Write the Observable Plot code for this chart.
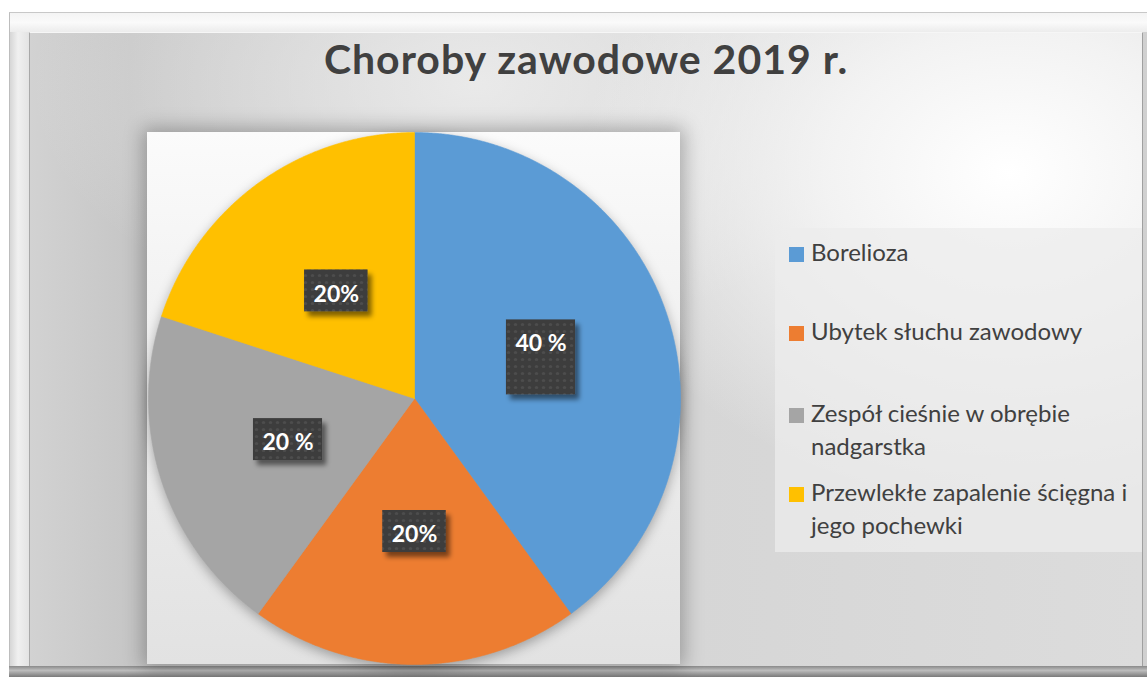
<!DOCTYPE html>
<html>
<head>
<meta charset="utf-8">
<script src="https://cdn.jsdelivr.net/npm/d3@7"></script>
<script src="https://cdn.jsdelivr.net/npm/@observablehq/plot@0.6"></script>
<style>
  html, body { margin: 0; padding: 0; }
  body { width: 1147px; height: 677px; overflow: hidden; position: relative; background: #ffffff; font-family: Lato, "Open Sans", sans-serif; }
  #frame { position: absolute; left: 9px; top: 12px; width: 1150px; height: 680px;
    background: linear-gradient(to right, #d6d6d6 0px, #f0f0f0 8px, #e2e2e2 20px, #d0d0d0 100%);
    border-left: 1px solid #bdbdbd; border-top: 1px solid #c8c8c8; box-sizing: border-box; }
  #frameTop { position: absolute; left: 10px; top: 13px; width: 1140px; height: 19px;
    background: linear-gradient(to bottom, #f4f4f4, #fafafa 50%, #ececec); }
  #frameBottom { position: absolute; left: 9px; top: 666px; width: 1150px; height: 11px;
    background: linear-gradient(to bottom, #8a8a8a, #bdbdbd 40%, #7a7a7a); }
  #panel { position: absolute; left: 29px; top: 32px; width: 1114px; height: 634px;
    border-left: 1px solid #a8a8a8; border-top: 1px solid #f6f6f6; border-right: 1px solid #a0a0a0; box-sizing: border-box;
    background:
      radial-gradient(ellipse 55% 75% at 88% 22%, rgba(255,255,255,1) 0%, rgba(245,245,245,0.9) 30%, rgba(230,230,230,0) 70%),
      radial-gradient(ellipse 40% 40% at 40% 8%, rgba(240,240,240,0.8) 0%, rgba(240,240,240,0) 100%),
      linear-gradient(to right, #d2d2d2 0%, #c6c6c6 9%, #d6d6d6 60%, #dcdcdc 100%);
  }
  #title { position: absolute; left: 29px; width: 1114px; top: 38px; text-align: center;
    font-family: Lato, sans-serif; font-weight: 700; font-size: 41px; line-height: 42px; letter-spacing: 1px; color: #404040; }
  #plotArea { position: absolute; left: 147px; top: 132px; width: 533px; height: 532px;
    background: linear-gradient(to bottom, #fbfbfb 0%, #f0f0f0 40%, #e2e2e2 100%);
    box-shadow: 0 0 18px 4px rgba(0,0,0,0.28); }
  #chart { position: absolute; left: 148px; top: 132px; }
  #legendBox { position: absolute; left: 775px; top: 228px; width: 367px; height: 324px;
    background: rgba(236,236,236,0.75); }
  .item { position: absolute; left: 789px; width: 358px; font-size: 24px; line-height: 33px; color: #404040; }
  .item .sw { position: absolute; left: 0; top: 12px; width: 15px; height: 15px; }
  .item .tx { display: block; margin-left: 22px; width: 334px; }
</style>
</head>
<body>
<div id="frame"></div>
<div id="frameTop"></div>
<div id="frameBottom"></div>
<div id="panel"></div>
<div id="title">Choroby zawodowe 2019 r.</div>
<div id="plotArea"></div>
<div id="chart"></div>
<div id="legendBox"></div>
<div id="legend"></div>
<script>
// ---- data ----
const categories = [
  "Borelioza",
  "Ubytek słuchu zawodowy",
  "Zespół cieśnie w obrębie nadgarstka",
  "Przewlekłe zapalenie ścięgna i jego pochewki"
];
const shares = [40, 20, 20, 20];
const labelTexts = ["40 %\n", "20%", "20 %", "20%"];
const colors = ["#5B9BD5", "#ED7D31", "#A5A5A5", "#FFC000"];

// ---- geometry from data (unit circle, angle 0 at top, clockwise) ----
const arcs = d3.pie().sort(null).value(d => d)(shares);
const slicePts = [];
arcs.forEach((a, i) => {
  const n = Math.max(2, Math.ceil((a.endAngle - a.startAngle) / 0.005));
  slicePts.push({cat: categories[i], x: 0, y: 0});
  for (let k = 0; k <= n; k++) {
    const t = a.startAngle + (a.endAngle - a.startAngle) * k / n;
    slicePts.push({cat: categories[i], x: Math.sin(t), y: Math.cos(t)});
  }
  slicePts.push({cat: categories[i], x: 0, y: 0});
});
const labelData = arcs.map((a, i) => {
  const m = (a.startAngle + a.endAngle) / 2;
  return {cat: categories[i], text: labelTexts[i], x: 0.5 * Math.sin(m), y: 0.5 * Math.cos(m)};
});

// text measuring
const ctx = document.createElement("canvas").getContext("2d");
const labelFont = "700 23px Lato";
function textW(s) { ctx.font = labelFont; return ctx.measureText(s).width; }

const size = 532;
const chart = Plot.plot({
  width: size, height: size, margin: 0,
  x: {domain: [-1, 1], axis: null},
  y: {domain: [-1, 1], axis: null},
  color: {domain: categories, range: colors},
  style: {background: "transparent", overflow: "visible"},
  marks: [
    Plot.line(slicePts, {x: "x", y: "y", z: "cat", fill: "cat", stroke: "cat", strokeWidth: 0.6, curve: "linear"}),
    Plot.text(labelData, {
      x: "x", y: "y", text: "text", fill: "white", fontSize: 23, fontWeight: 700,
      fontFamily: "Lato", lineHeight: 1.45, lineAnchor: "middle",
      render(index, scales, values, dimensions, context, next) {
        const g = next(index, scales, values, dimensions, context);
        const outer = d3.create("svg:g");
        const boxes = outer.append("g");
        for (const i of index) {
          const t = labelData[i].text;
          const lines = t.split("\n").length;
          const w = textW(t.trim()) + 18;
          const h = 42 + (lines - 1) * 33;
          boxes.append("rect")
            .attr("x", values.x[i] - w / 2).attr("y", values.y[i] - h / 2)
            .attr("width", w).attr("height", h)
            .attr("fill", "url(#dots)")
            .attr("filter", "url(#boxShadow)");
        }
        outer.append(() => g);
        return outer.node();
      }
    })
  ]
});

d3.select(chart).insert("defs", ":first-child").html(`
  <pattern id="dots" width="7" height="7" patternUnits="userSpaceOnUse">
    <rect width="7" height="7" fill="#3d3d3d"/>
    <circle cx="3.5" cy="3.5" r="1.6" fill="#4d4d4d"/>
  </pattern>
  <filter id="boxShadow" x="-30%" y="-30%" width="170%" height="170%">
    <feGaussianBlur in="SourceAlpha" stdDeviation="2.5"/>
    <feOffset dx="4" dy="5" result="o"/>
    <feComponentTransfer><feFuncA type="linear" slope="0.5"/></feComponentTransfer>
    <feMerge><feMergeNode/><feMergeNode in="SourceGraphic"/></feMerge>
  </filter>
`);
d3.select(chart).selectAll("g[aria-label=line]").style("filter", "drop-shadow(0px 4px 6px rgba(0,0,0,0.3))");
document.getElementById("chart").appendChild(chart);

// ---- legend (HTML) ----
const legendTops = [235, 314, 396, 475];
const legend = d3.select("#legend");
categories.forEach((c, i) => {
  const it = legend.append("div").attr("class", "item").style("top", legendTops[i] + "px");
  it.append("span").attr("class", "sw").style("background", colors[i]);
  it.append("span").attr("class", "tx").text(c);
});
</script>
</body>
</html>
